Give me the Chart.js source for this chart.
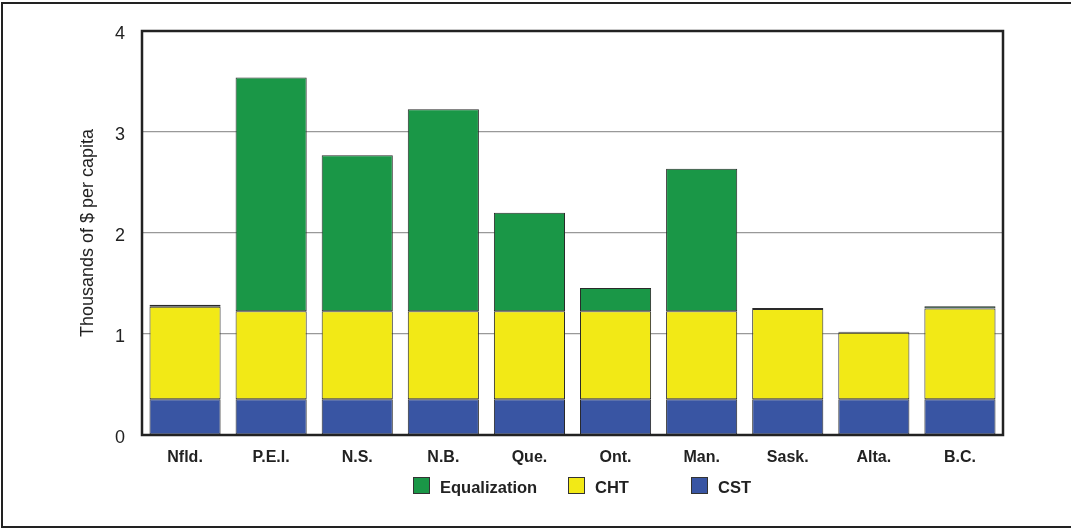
<!DOCTYPE html>
<html>
<head>
<meta charset="utf-8">
<script src="https://cdn.jsdelivr.net/npm/chart.js@4"></script>
<style>
  html, body { margin: 0; padding: 0; background: #fff; overflow: hidden; }
  #wrap { position: relative; width: 1071px; height: 529px; }
  #frame { position: absolute; left: 1px; top: 2px; width: 1100px; height: 526px; border: 2px solid #222; box-sizing: border-box; }
  canvas { position: absolute; left: 0; top: 0; }
  .leg { position: absolute; top: 477px; font: bold 16.5px "Liberation Sans", Arial, sans-serif; color: #222; }
  .leg span.box { position: absolute; top: 0; width: 15px; height: 15px; border: 1px solid #333; }
  .leg span.txt { position: absolute; top: 1px; white-space: nowrap; }
</style>
</head>
<body>
<div id="wrap">
  <div id="frame"></div>
  <canvas id="grafico" width="1071" height="529"></canvas>
  <div id="legenda"></div>
</div>
<script>
// Transferências por província (milhares de $ per capita)
const provincias = ['Nfld.', 'P.E.I.', 'N.S.', 'N.B.', 'Que.', 'Ont.', 'Man.', 'Sask.', 'Alta.', 'B.C.'];
const cst = [0.353, 0.353, 0.353, 0.353, 0.353, 0.353, 0.353, 0.353, 0.353, 0.353];
const cht = [0.917, 0.872, 0.872, 0.872, 0.872, 0.872, 0.872, 0.895, 0.66, 0.90];
const equalizacao = [0.02, 2.315, 1.545, 2.0, 0.975, 0.23, 1.41, 0.01, 0.01, 0.022];
const ticksY = [0, 1, 2, 3, 4];

const cores = { eq: '#1a9747', cht: '#f2e916', cst: '#3955a3' };
const fonte = '"Liberation Sans", Arial, sans-serif';

// moldura do gráfico
const moldura = {
    id: 'moldura',
    afterDatasetsDraw(chart) {
        const { ctx, chartArea: a } = chart;
        ctx.save();
        ctx.strokeStyle = '#222';
        ctx.lineWidth = 2.5;
        ctx.strokeRect(a.left, a.top, a.right - a.left, a.bottom - a.top);
        ctx.restore();
    }
};

const ctx = document.getElementById('grafico').getContext('2d');
const grafico = new Chart(ctx, {
    type: 'bar',
    data: {
        labels: provincias,
        datasets: [
            { label: 'CST', data: cst, backgroundColor: cores.cst },
            { label: 'CHT', data: cht, backgroundColor: cores.cht },
            { label: 'Equalization', data: equalizacao, backgroundColor: cores.eq }
        ]
    },
    options: {
        responsive: false,
        animation: false,
        datasets: {
            bar: {
                borderColor: '#2a2a2a',
                borderWidth: 1,
                borderSkipped: false,
                barPercentage: 0.826,
                categoryPercentage: 1
            }
        },
        layout: { padding: { top: 31, right: 68, bottom: 0, left: 0 } },
        plugins: { legend: { display: false }, tooltip: { enabled: false } },
        scales: {
            x: {
                stacked: true,
                grid: { display: false },
                border: { display: false },
                ticks: { color: '#222', font: { family: fonte, size: 16, weight: 'bold' }, padding: 5, maxRotation: 0 },
                afterFit(s) { s.height = 94; }
            },
            y: {
                stacked: true,
                min: 0,
                max: 4,
                afterBuildTicks(s) { s.ticks = ticksY.map(v => ({ value: v })); },
                grid: { color: '#999', lineWidth: 1.2, drawTicks: false },
                border: { display: false },
                ticks: { color: '#222', font: { family: fonte, size: 18 }, padding: 17, labelOffset: 3 },
                title: {
                    display: true,
                    text: 'Thousands of $ per capita',
                    color: '#222',
                    font: { family: fonte, size: 18 },
                    padding: { top: 77, bottom: 0 }
                },
                afterFit(s) { s.width = 142; }
            }
        }
    },
    plugins: [moldura]
});

// legenda em HTML
const itensLegenda = [
    { nome: 'Equalization', cor: cores.eq, x: 413 },
    { nome: 'CHT', cor: cores.cht, x: 568 },
    { nome: 'CST', cor: cores.cst, x: 691 }
];
const legenda = document.getElementById('legenda');
itensLegenda.forEach(it => {
    const d = document.createElement('div');
    d.className = 'leg';
    d.style.left = it.x + 'px';
    d.innerHTML = '<span class="box" style="background:' + it.cor + '"></span><span class="txt" style="left:27px">' + it.nome + '</span>';
    legenda.appendChild(d);
});
</script>
</body>
</html>
